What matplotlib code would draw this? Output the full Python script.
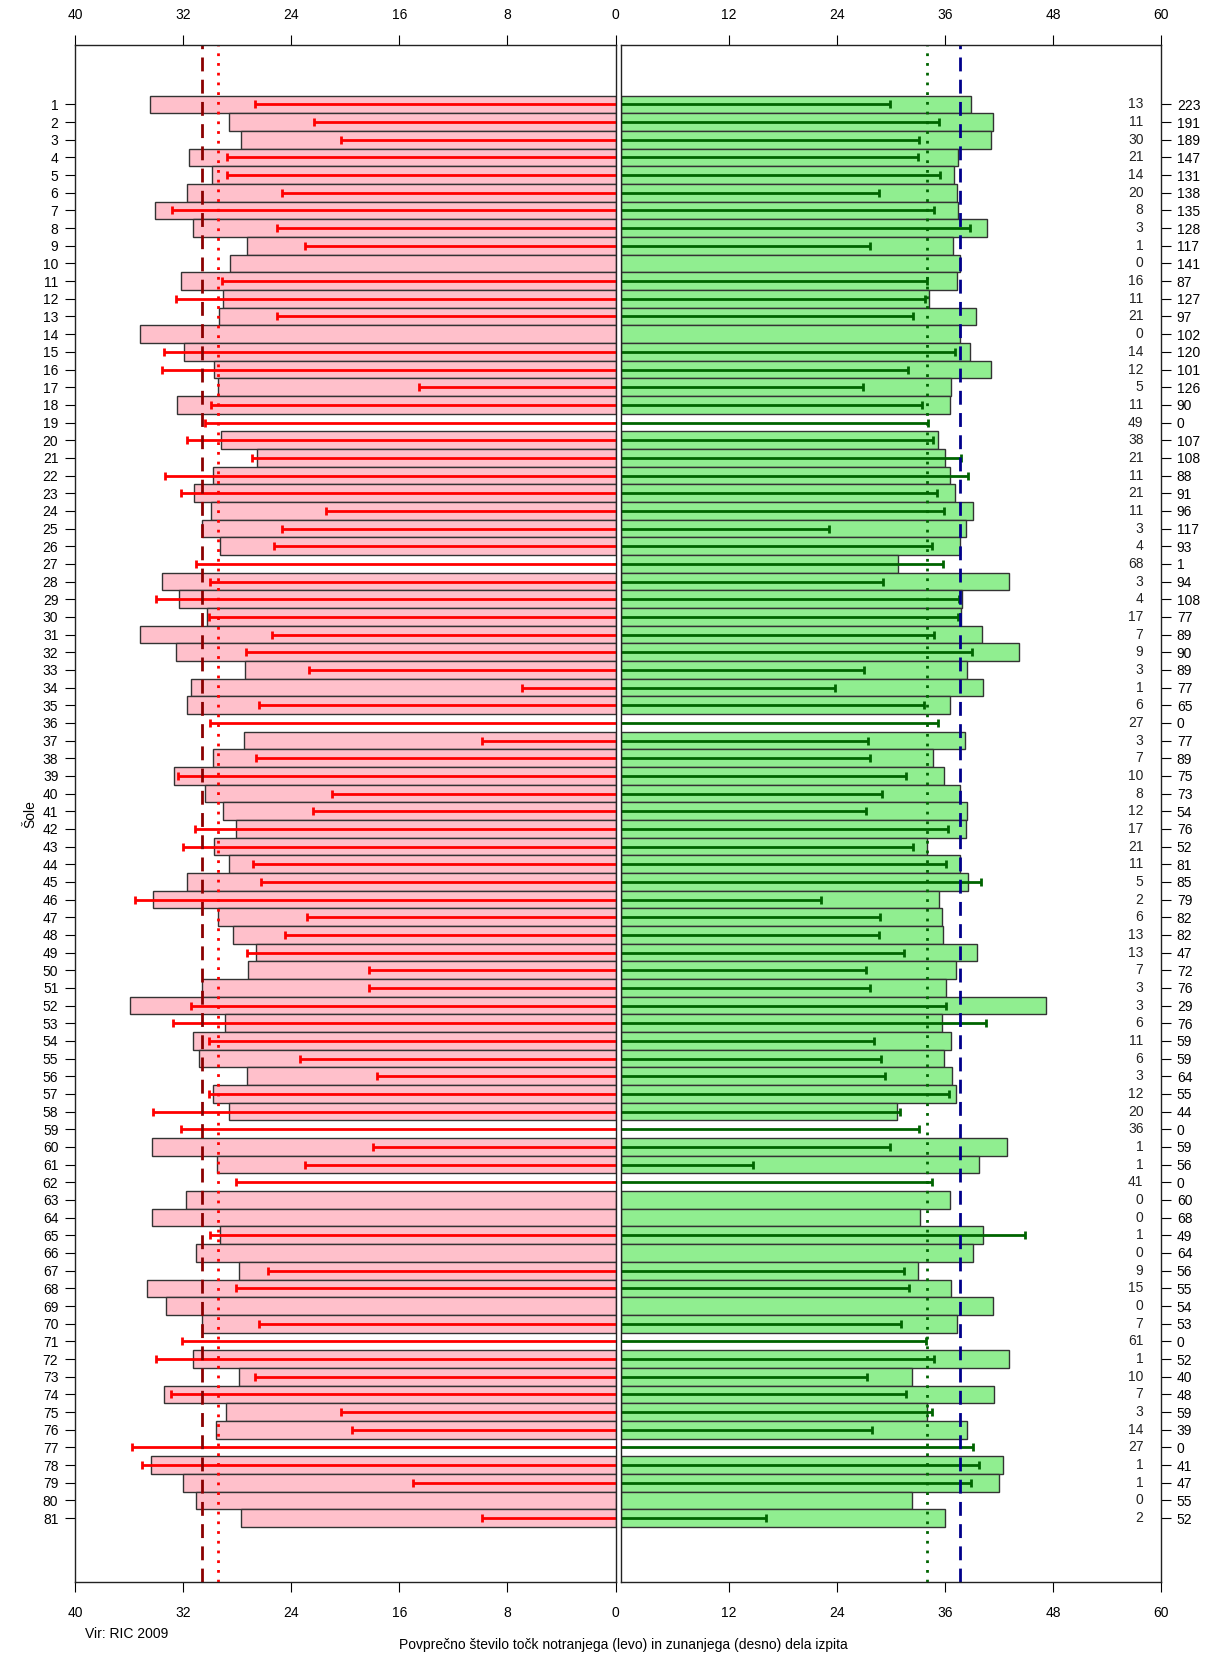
import numpy as np
import matplotlib
matplotlib.use('Agg')
import matplotlib.pyplot as plt

plt.rcParams['font.family'] = ['Liberation Sans Narrow', 'Liberation Sans', 'DejaVu Sans']

nan = np.nan
# school numbers
sole = list(range(1, 82))

# left part (notranji del): bar = one group, line = other group
left_bar = [34.47, 28.63, 27.74, 31.59, 29.87, 31.70, 34.07, 31.24, 27.31, 28.55,
            32.13, 29.06, 29.33, 35.20, 31.97, 29.68, 29.41, 32.48, nan, 29.17,
            26.53, 29.76, 31.16, 29.95, 30.60, 29.25, nan, 33.58, 32.29, 30.22,
            35.17, 32.56, 27.40, 31.40, 31.75, nan, 27.48, 29.76, 32.64, 30.38,
            29.06, 28.12, 29.68, 28.61, 31.70, 34.20, 29.39, 28.28, 26.64, 27.23,
            30.62, 35.95, 28.88, 31.24, 30.84, 27.31, 29.76, 28.63, nan, 34.31,
            29.49, nan, 31.78, 34.31, 29.25, 31.08, 27.85, 34.66, 33.26, 30.62,
            nan, 31.24, 27.85, 33.42, 28.82, 29.60, nan, 34.39, 32.02, 31.08, 27.74]
left_err = [26.67, 22.31, 20.32, 28.77, 28.77, 24.68, 32.80, 25.03, 23.01, nan,
            29.14, 32.53, 25.03, nan, 33.40, 33.58, 14.53, 29.92, 30.36, 31.75,
            26.94, 33.32, 32.19, 21.45, 24.65, 25.27, 31.03, 30.01, 34.01, 30.09,
            25.46, 27.37, 22.66, 6.92, 26.35, 30.01, 9.90, 26.59, 32.37, 21.02,
            22.39, 31.11, 32.00, 26.86, 26.24, 35.58, 22.82, 24.49, 27.29, 18.27,
            18.27, 31.40, 32.72, 30.09, 23.36, 17.68, 30.09, 34.20, 32.19, 17.92,
            23.01, 28.07, nan, nan, 30.01, nan, 25.73, 28.07, nan, 26.35,
            32.10, 34.01, 26.67, 32.89, 20.32, 19.51, 35.76, 35.06, 14.96, nan, 9.90]

# right part (zunanji del)
right_bar = [38.89, 41.25, 41.13, 37.44, 37.02, 37.32, 37.44, 40.62, 36.89, 37.66,
             37.32, 34.15, 39.43, 37.66, 38.75, 41.13, 36.68, 36.55, nan, 35.20,
             35.96, 36.55, 37.06, 39.05, 38.33, 37.66, 30.75, 43.12, 37.82, 37.78,
             40.06, 44.13, 38.46, 40.24, 36.51, nan, 38.21, 34.69, 35.88, 37.66,
             38.37, 38.33, 33.93, 37.66, 38.50, 35.32, 35.62, 35.75, 39.56, 37.19,
             36.13, 47.18, 35.62, 36.68, 35.88, 36.77, 37.19, 30.63, nan, 42.82,
             39.69, nan, 36.51, 33.25, 40.24, 39.13, 33.00, 36.68, 41.25, 37.32,
             nan, 43.12, 32.32, 41.38, 34.01, 38.37, nan, 42.44, 42.02, 32.32, 36.01]
right_err = [29.82, 35.28, 33.08, 32.92, 35.46, 28.63, 34.78, 38.79, 27.70, nan,
             33.97, 33.76, 32.40, nan, 37.10, 31.85, 26.86, 33.42, 34.05, 34.69,
             37.74, 38.55, 35.04, 35.83, 23.14, 34.56, 35.71, 29.11, 37.52, 37.44,
             34.78, 38.97, 27.03, 23.77, 33.59, 35.16, 27.45, 27.70, 31.65, 28.97,
             27.16, 36.35, 32.40, 36.05, 40.02, 22.20, 28.77, 28.63, 31.47, 27.16,
             27.70, 36.05, 40.53, 28.08, 28.85, 29.35, 36.47, 30.97, 33.04, 29.82,
             14.71, 34.52, nan, nan, 44.90, nan, 31.47, 31.98, nan, 31.09,
             33.89, 34.78, 27.28, 31.65, 34.52, 27.92, 39.09, 39.73, 38.85, nan, 16.15]

n_err = [13, 11, 30, 21, 14, 20, 8, 3, 1, 0, 16, 11, 21, 0, 14, 12, 5, 11, 49, 38,
         21, 11, 21, 11, 3, 4, 68, 3, 4, 17, 7, 9, 3, 1, 6, 27, 3, 7, 10, 8,
         12, 17, 21, 11, 5, 2, 6, 13, 13, 7, 3, 3, 6, 11, 6, 3, 12, 20, 36, 1,
         1, 41, 0, 0, 1, 0, 9, 15, 0, 7, 61, 1, 10, 7, 3, 14, 27, 1, 1, 0, 2]
n_bar = [223, 191, 189, 147, 131, 138, 135, 128, 117, 141, 87, 127, 97, 102, 120, 101, 126, 90, 0, 107,
         108, 88, 91, 96, 117, 93, 1, 94, 108, 77, 89, 90, 89, 77, 65, 0, 77, 89, 75, 73,
         54, 76, 52, 81, 85, 79, 82, 82, 47, 72, 76, 29, 76, 59, 59, 64, 55, 44, 0, 59,
         56, 0, 60, 68, 49, 64, 56, 55, 54, 53, 0, 52, 40, 48, 59, 39, 0, 41, 47, 55, 52]

# overall averages (vertical lines)
left_mean_bar, left_mean_err = 30.63, 29.39
right_mean_err, right_mean_bar = 33.97, 37.61

y = np.array(sole)
fs = 10

fig = plt.figure(figsize=(12.08, 16.55), dpi=100)
axL = fig.add_axes([0.0621, 0.0441, 0.4475, 0.9285])
axR = fig.add_axes([0.514, 0.0441, 0.4475, 0.9285])

# left panel
axL.barh(y, left_bar, height=1.0, color='pink', edgecolor='#333333', linewidth=1)
le = np.array(left_err)
m = ~np.isnan(le)
axL.hlines(y[m], 0, le[m], color='red', linewidth=2)
axL.plot(le[m], y[m], linestyle='none', marker='|', color='red', markersize=6, mew=2)
axL.axvline(left_mean_bar, color='darkred', linestyle=(0, (5, 3)), linewidth=2)
axL.axvline(left_mean_err, color='red', linestyle=(0, (1, 2.5)), linewidth=2)
axL.set_xlim(40, 0)
axL.set_ylim(84.62, -2.345)
axL.set_xticks([40, 32, 24, 16, 8, 0])
axL.set_yticks(y)
axL.set_yticklabels([str(s) for s in sole])
axL.tick_params(axis='x', top=True, labeltop=True, labelsize=fs, length=7, pad=10)
axL.tick_params(axis='y', labelsize=fs, length=7, pad=5)
axL.set_ylabel('Šole', fontsize=fs, labelpad=4)

# right panel
axR.barh(y, right_bar, height=1.0, color='lightgreen', edgecolor='#333333', linewidth=1)
re = np.array(right_err)
m = ~np.isnan(re)
axR.hlines(y[m], 0, re[m], color='darkgreen', linewidth=2)
axR.plot(re[m], y[m], linestyle='none', marker='|', color='darkgreen', markersize=6, mew=2)
axR.axvline(right_mean_err, color='darkgreen', linestyle=(0, (1, 2.5)), linewidth=2)
axR.axvline(right_mean_bar, color='darkblue', linestyle=(0, (5, 3)), linewidth=2)
axR.set_xlim(0, 60)
axR.set_ylim(84.62, -2.345)
axR.set_xticks([12, 24, 36, 48, 60])
axR.yaxis.tick_right()
axR.set_yticks(y)
axR.set_yticklabels([str(n) for n in n_bar])
axR.tick_params(axis='x', top=True, labeltop=True, labelsize=fs, length=7, pad=10)
axR.tick_params(axis='y', labelsize=fs, length=7, pad=4)
for yi, n in zip(y, n_err):
    axR.text(58, yi, str(n), ha='right', va='center', fontsize=fs, color='#222222')

for ax in (axL, axR):
    for s in ax.spines.values():
        s.set_linewidth(1)
        s.set_color('#222222')

fig.text(0.070, 0.0127, 'Vir: RIC 2009', ha='left', va='center', fontsize=fs)
fig.text(0.516, 0.0062, 'Povprečno število točk notranjega (levo) in zunanjega (desno) dela izpita',
         ha='center', va='center', fontsize=fs)

fig.savefig('out.png', dpi=100)
